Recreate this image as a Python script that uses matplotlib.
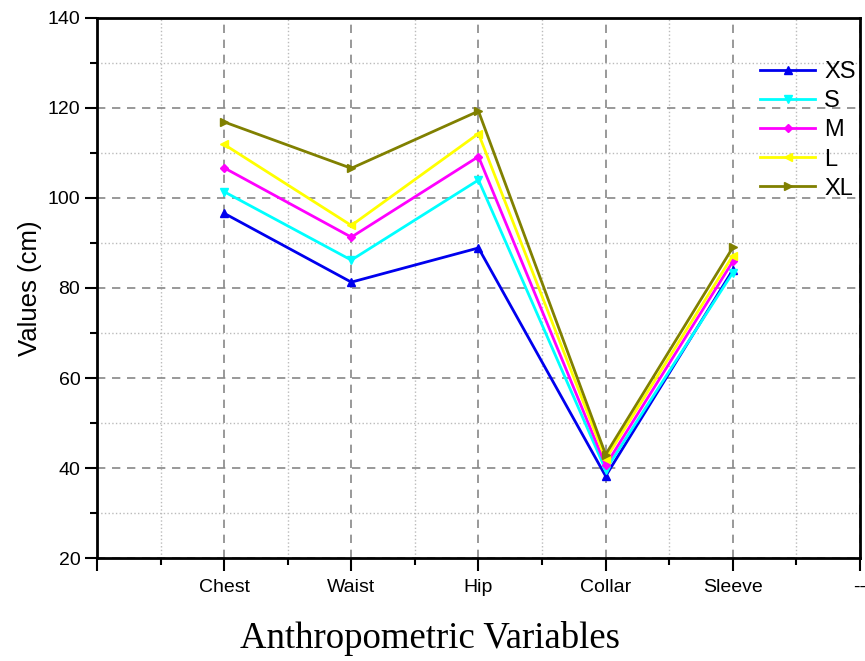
import matplotlib
matplotlib.use("Agg")
import matplotlib.pyplot as plt
from matplotlib.ticker import MultipleLocator

categories = ["Chest", "Waist", "Hip", "Collar", "Sleeve"]
series_names = ["XS", "S", "M", "L", "XL"]
xs_vals = [96.6, 81.3, 88.9, 38.2, 84.0]
s_vals = [101.4, 86.2, 104.0, 39.6, 83.4]
m_vals = [106.7, 91.3, 109.2, 40.6, 85.9]
l_vals = [111.9, 93.9, 114.3, 42.0, 87.2]
xl_vals = [116.9, 106.6, 119.3, 43.0, 89.0]
tick_labels = ["", "Chest", "Waist", "Hip", "Collar", "Sleeve", "--"]

colors = ["#0000ee", "#00ffff", "#ff00ff", "#ffff00", "#808000"]
markers = ["^", "v", "D", "<", ">"]
msizes = [6, 6, 4.5, 6, 6]

plt.rcParams['font.family'] = ['Liberation Sans', 'DejaVu Sans']

fig = plt.figure(figsize=(8.65, 6.61), dpi=100)
ax = fig.add_axes([0.1121, 0.1558, 0.8821, 0.8170])

xpos = list(range(1, len(categories) + 1))
all_vals = [xs_vals, s_vals, m_vals, l_vals, xl_vals]
for name, vals, c, mk, ms in zip(series_names, all_vals, colors, markers, msizes):
    ax.plot(xpos, vals, color=c, marker=mk, markersize=ms, linewidth=2, label=name, zorder=3)

ax.set_xlim(0, 6)
ax.set_ylim(20, 140)
ax.set_xticks(range(0, 7))
ax.set_xticklabels(tick_labels, fontsize=14)
ax.xaxis.set_minor_locator(MultipleLocator(0.5))
ax.yaxis.set_major_locator(MultipleLocator(20))
ax.yaxis.set_minor_locator(MultipleLocator(10))
ax.tick_params(axis='both', which='major', direction='out', length=9, width=1.5, labelsize=14)
ax.tick_params(axis='both', which='minor', direction='out', length=5, width=1.5)
ax.tick_params(axis='x', which='major', pad=6)
ax.tick_params(axis='y', which='major', pad=3)

ax.grid(which='major', color='#888888', linestyle=(0, (5, 4)), linewidth=1.2)
ax.grid(which='minor', color='#bbbbbb', linestyle=':', linewidth=1)
ax.set_axisbelow(True)

for sp in ax.spines.values():
    sp.set_linewidth(2)

ax.set_ylabel("Values (cm)", fontsize=18.5, labelpad=4)
fig.text(430 / 865, 1 - 638 / 661, "Anthropometric Variables", fontsize=26.5,
         family=['Liberation Serif'], ha='center', va='center')

leg = ax.legend(loc='upper right', bbox_to_anchor=(1.013, 0.946), frameon=False, fontsize=17,
                handlelength=2.3, handletextpad=0.4, labelspacing=0.3, borderaxespad=0.2)

fig.savefig("out.png", dpi=100)
